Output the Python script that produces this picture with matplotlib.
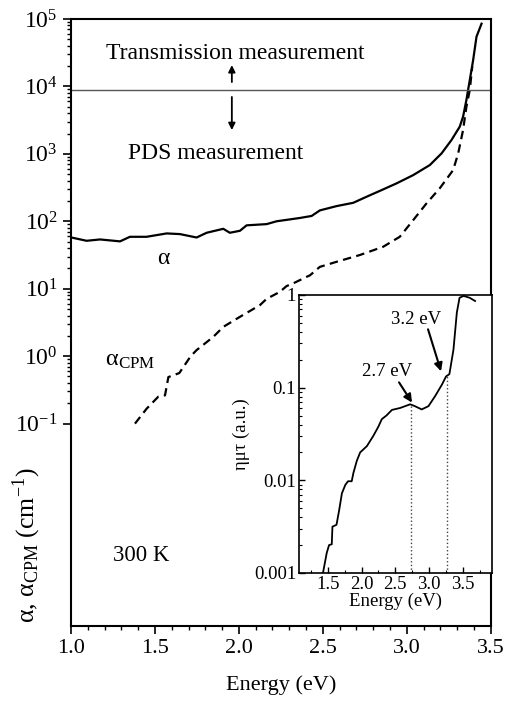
import numpy as np
import matplotlib
matplotlib.use("Agg")
import matplotlib.pyplot as plt
from matplotlib.ticker import FixedLocator, NullFormatter, LogFormatterMathtext, MultipleLocator, FixedFormatter

plt.rcParams['font.family'] = ['Liberation Serif', 'DejaVu Serif']
plt.rcParams['mathtext.fontset'] = 'stix'
plt.rcParams['axes.unicode_minus'] = False

# main panel: absorption coefficient (cm^-1) vs energy (eV)
alpha_E = [1.00, 1.093, 1.173, 1.292, 1.351, 1.45, 1.57, 1.649, 1.748, 1.808,
           1.907, 1.946, 2.006, 2.046, 2.165, 2.224, 2.363, 2.433, 2.482, 2.582,
           2.681, 2.76, 2.859, 2.939, 3.038, 3.137, 3.207, 3.266, 3.315, 3.335,
           3.355, 3.375, 3.395, 3.415, 3.445]
alpha = [57.7, 51.4, 53.8, 50.4, 58.9, 58.9, 66.1, 64.6, 57.5, 67.6,
         77.4, 67.6, 72.3, 87.1, 90.8, 100, 112, 120, 145, 168,
         188, 231, 297, 365, 484, 682, 1016, 1603, 2523, 3548,
         6310, 12450, 24550, 54580, 85110]

cpm_E = [1.381, 1.45, 1.52, 1.56, 1.58, 1.645, 1.713, 1.748, 1.847, 1.907,
         2.006, 2.125, 2.165, 2.244, 2.284, 2.323, 2.403, 2.423, 2.482, 2.582,
         2.72, 2.859, 2.958, 3.038, 3.117, 3.196, 3.276, 3.306, 3.335, 3.355,
         3.375, 3.39]
alpha_cpm = [0.1, 0.166, 0.251, 0.263, 0.49, 0.562, 1.0, 1.23, 1.93, 2.72,
             3.83, 5.71, 7.08, 8.99, 10.96, 12.0, 15.0, 15.8, 21.1, 25.1,
             31.6, 41.9, 58.9, 104, 184, 308, 575, 1016, 2254, 5012,
             8851, 19950]

boundary = 8850  # transmission / PDS limit

# inset: eta mu tau (a.u.)
inset_E = [1.43, 1.485, 1.52, 1.56, 1.57, 1.63, 1.67, 1.71, 1.76, 1.80,
           1.855, 1.88, 1.93, 1.98, 2.08, 2.175, 2.25, 2.30, 2.37, 2.45,
           2.57, 2.72, 2.79, 2.89, 2.99, 3.09, 3.19, 3.25, 3.30, 3.36,
           3.41, 3.45, 3.51, 3.60, 3.68]
emt = [0.001, 0.00164, 0.0020, 0.00204, 0.00316, 0.00331, 0.00479, 0.00724, 0.00891, 0.00977,
       0.00977, 0.0120, 0.0162, 0.0200, 0.0234, 0.0302, 0.0380, 0.0457, 0.0501, 0.0575,
       0.0603, 0.0661, 0.0631, 0.0582, 0.0631, 0.0813, 0.108, 0.132, 0.140, 0.257,
       0.646, 0.933, 0.977, 0.933, 0.861]
peaks_E = [2.728, 3.26]
peaks_val = [0.066, 0.135]
peak_labels = ['2.7 eV', '3.2 eV']

main_yticks = [1e-1, 1e0, 1e1, 1e2, 1e3, 1e4, 1e5]
inset_yticks = [0.001, 0.01, 0.1, 1]
inset_ylabels = ['0.001', '0.01', '0.1', '1']

fig = plt.figure(figsize=(5.07, 7.02), dpi=100)
ax = fig.add_axes([0.140, 0.1083, 0.828, 0.8647])

ax.plot(alpha_E, alpha, color='black', lw=1.6)
ax.plot(cpm_E, alpha_cpm, color='black', lw=1.6, linestyle=(0, (3.8, 2.4)))
ax.axhline(boundary, color='#555555', lw=1.0)

ax.set_xlim(1.0, 3.5)
ax.set_yscale('log')
ax.set_ylim(1e-4, 1e5)
ax.xaxis.set_major_locator(MultipleLocator(0.5))
ax.xaxis.set_minor_locator(MultipleLocator(0.1))
ax.xaxis.set_major_formatter(matplotlib.ticker.FormatStrFormatter('%.1f'))
ax.yaxis.set_major_locator(FixedLocator(main_yticks))
minors = [m * d for d in main_yticks[:-1] for m in range(2, 10)]
ax.yaxis.set_minor_locator(FixedLocator(minors))
ax.yaxis.set_major_formatter(LogFormatterMathtext())
ax.yaxis.set_minor_formatter(NullFormatter())
ax.tick_params(axis='both', which='major', direction='out', length=6, width=1.2, labelsize=16)
ax.tick_params(axis='both', which='minor', direction='out', length=3.2, width=1.0)
ax.tick_params(axis='y', which='major', labelsize=17)
for s in ax.spines.values():
    s.set_linewidth(1.5)

ax.set_xlabel('Energy (eV)', fontsize=16, labelpad=12)
ax.set_ylabel('α, α$_{\\mathregular{CPM}}$ (cm$^{\\mathregular{-1}}$)', fontsize=18.5)
ax.yaxis.set_label_coords(-0.067, 0.133)

ax.text(1.98, 3.1e4, 'Transmission measurement', fontsize=17, ha='center', va='center')
ax.text(1.86, 1.0e3, 'PDS measurement', fontsize=17, ha='center', va='center')
arrow_kw = dict(arrowstyle='-|>', color='black', lw=1.3, mutation_scale=10,
                shrinkA=0, shrinkB=0)
ax.annotate('', xy=(1.958, 2.07e4), xytext=(1.958, 1.16e4), arrowprops=arrow_kw)
ax.annotate('', xy=(1.958, 2.25e3), xytext=(1.958, 6.97e3), arrowprops=arrow_kw)
ax.text(1.548, 28, 'α', fontsize=17, ha='center', va='center')
ax.text(1.20, 0.85, 'α$_{\\mathregular{CPM}}$', fontsize=17.5, ha='left', va='center')
ax.text(1.417, 1.1e-3, '300 K', fontsize=16.5, ha='center', va='center')

# inset
ins = fig.add_axes([0.5897, 0.1838, 0.3807, 0.396])
ins.plot(inset_E, emt, color='black', lw=1.3)
ins.vlines(peaks_E, 0.001, peaks_val, colors='#444444', linestyles=':', lw=1.0)
ins.set_yscale('log')
ins.set_xlim(1.075, 3.93)
ins.set_ylim(0.001, 1)
ins.xaxis.set_major_locator(MultipleLocator(0.5))
ins.xaxis.set_minor_locator(MultipleLocator(0.25))
ins.xaxis.set_major_formatter(matplotlib.ticker.FuncFormatter(
    lambda v, p: '' if v < 1.2 or v > 3.8 else '%.1f' % v))
ins.yaxis.set_major_locator(FixedLocator(inset_yticks))
ins.yaxis.set_major_formatter(FixedFormatter(inset_ylabels))
ins.yaxis.set_minor_locator(FixedLocator([m * d for d in inset_yticks[:-1] for m in range(2, 10)]))
ins.yaxis.set_minor_formatter(NullFormatter())
ins.tick_params(axis='both', which='major', direction='in', length=4, width=1.0, labelsize=13.5, pad=2)
ins.tick_params(axis='both', which='minor', direction='in', length=2.2, width=0.8)
for s in ins.spines.values():
    s.set_linewidth(1.2)
ins.set_xlabel('Energy (eV)', fontsize=13.5, labelpad=0)
ins.set_ylabel('ημτ (a.u.)', fontsize=13.5)
ins.yaxis.set_label_coords(-0.255, 0.5)

# peak labels and arrows
ins.text(2.377, 0.15, peak_labels[0], fontsize=13.5, ha='center', va='center')
ins.text(2.806, 0.546, peak_labels[1], fontsize=13.5, ha='center', va='center')
peak_kw = dict(arrowstyle='-|>', color='black', lw=1.5, mutation_scale=12,
               shrinkA=0, shrinkB=0)
ins.annotate('', xy=(2.747, 0.069), xytext=(2.555, 0.114), arrowprops=peak_kw)
ins.annotate('', xy=(3.176, 0.15), xytext=(2.984, 0.426), arrowprops=peak_kw)

fig.savefig('out.png', dpi=100)
